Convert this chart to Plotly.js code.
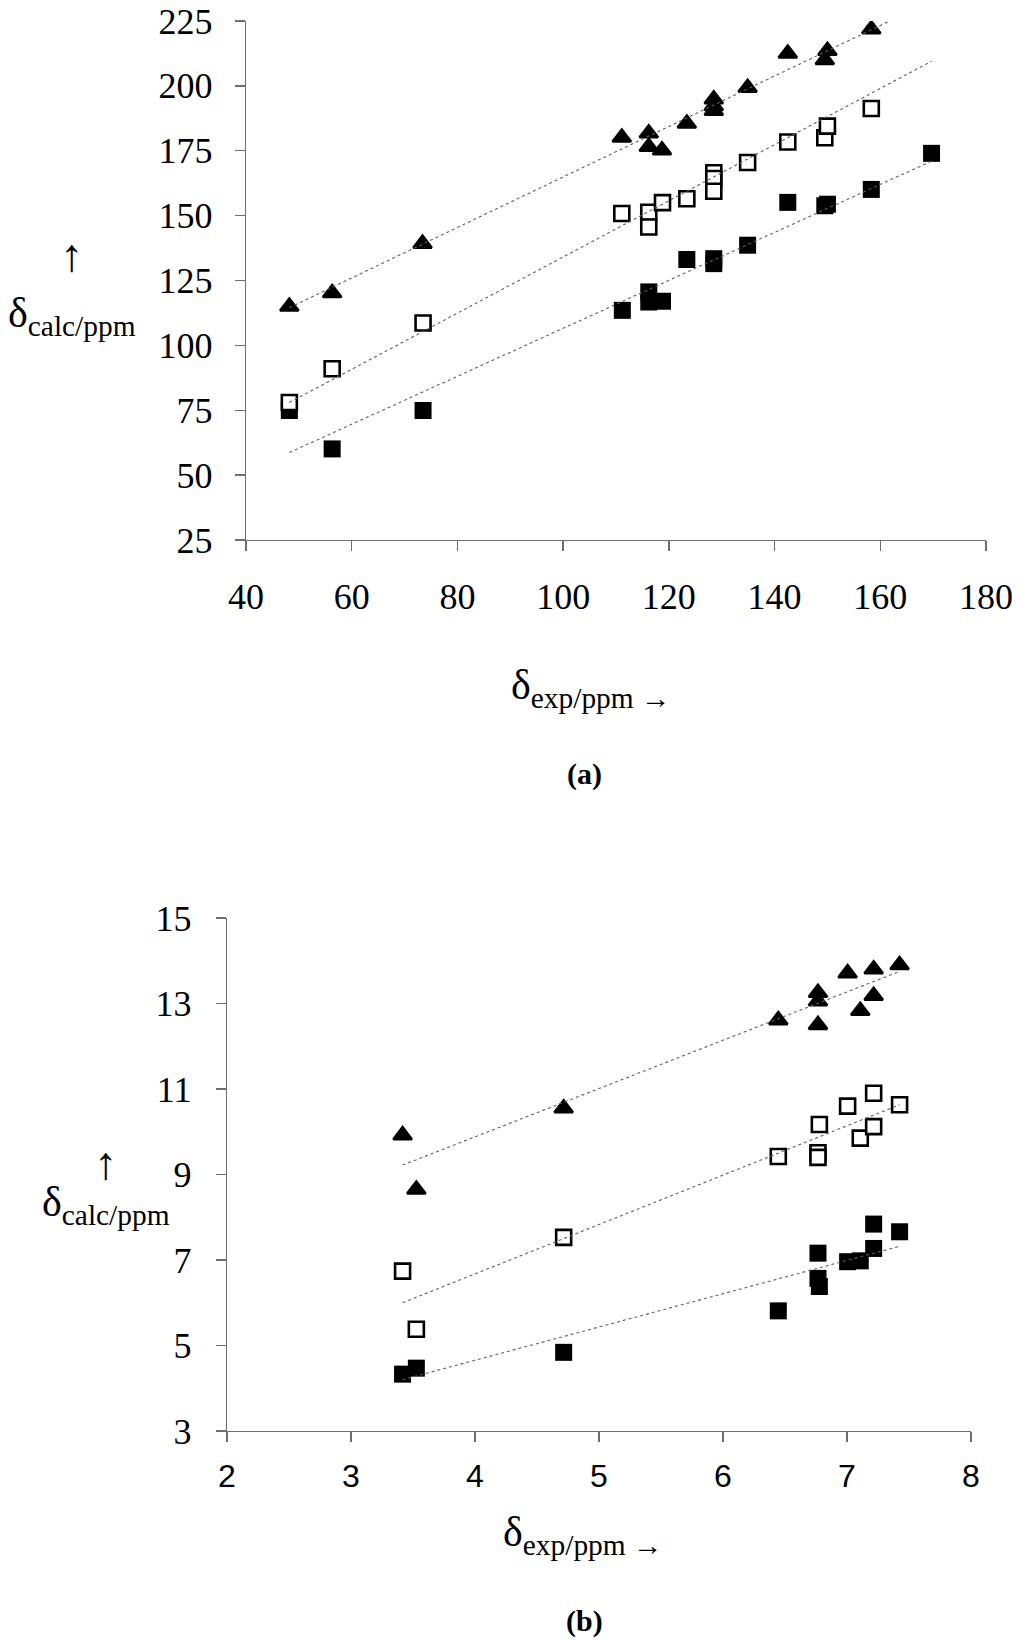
<!DOCTYPE html>
<html>
<head>
<meta charset="utf-8">
<script src="https://cdn.plot.ly/plotly-3.0.1.min.js"></script>
<style>
  body { margin: 0; background: #fff; }
  #gd { width: 1024px; height: 1646px; }
</style>
</head>
<body>
<div id="gd"></div>
<script>
// (a) 13C shifts: experimental vs calculated
var topExpFilled  = [48.2, 56.3, 73.5, 111.2, 116.2, 116.2, 118.8, 123.4, 128.5, 128.5, 134.9, 142.5, 149.5, 150.0, 158.3, 169.7];
var topCalcFilled = [74.9, 60.1, 74.9, 113.5, 120.6, 116.7, 117.0, 133.1, 133.4, 131.5, 138.6, 155.1, 153.8, 154.4, 160.1, 174.0];

var topExpOpen  = [48.2, 56.3, 73.5, 111.1, 116.2, 116.2, 118.8, 123.4, 128.5, 128.5, 128.5, 134.9, 142.5, 149.5, 150.0, 158.3];
var topCalcOpen = [78.0, 91.0, 108.6, 150.8, 151.3, 145.6, 155.0, 156.5, 166.5, 164.3, 159.4, 170.5, 178.4, 180.0, 184.5, 191.3];

var topExpTri  = [48.2, 56.3, 73.4, 111.1, 116.2, 116.2, 118.7, 123.4, 128.5, 128.5, 128.5, 134.9, 142.5, 149.5, 150.0, 158.3];
var topCalcTri = [115.0, 120.2, 139.2, 180.1, 181.7, 176.5, 175.2, 185.5, 194.8, 192.2, 190.4, 199.3, 212.5, 210.0, 213.5, 221.8];

// trend lines (end points)
var topFitExp    = [48.2, 169.7];
var topFitFilled = [58.7, 171.0];
var topFitOpen   = [78.0, 209.5];
var topFitTri    = [114.5, 232.7];

// (b) 1H shifts
var botExpTri  = [3.416, 3.527, 4.715, 6.446, 6.766, 6.766, 6.766, 7.005, 7.107, 7.215, 7.215, 7.424];
var botCalcTri = [9.92, 8.65, 10.55, 12.61, 13.25, 13.05, 12.50, 13.71, 12.83, 13.80, 13.18, 13.90];

var botExpOpen  = [3.416, 3.527, 4.715, 6.446, 6.777, 6.766, 6.766, 7.005, 7.107, 7.215, 7.215, 7.424];
var botCalcOpen = [6.74, 5.38, 7.53, 9.42, 10.17, 9.51, 9.40, 10.60, 9.85, 10.90, 10.12, 10.63];

var botExpFilled  = [3.416, 3.527, 4.715, 6.446, 6.766, 6.766, 6.777, 7.005, 7.107, 7.215, 7.215, 7.424];
var botCalcFilled = [4.33, 4.47, 4.84, 5.81, 7.16, 6.57, 6.38, 6.96, 6.98, 7.27, 7.84, 7.66];

var botFitExp    = [3.416, 7.424];
var botFitFilled = [4.20, 7.32];
var botFitOpen   = [6.00, 10.63];
var botFitTri    = [9.22, 13.75];

var W = 1024, H = 1646;
function px(x) { return x / W; }
function py(y) { return 1 - y / H; }

var filledSq = {symbol: 'square', size: 17, color: '#000', line: {width: 0}};
var openSq = {symbol: 'square', size: 15, color: '#fff', line: {color: '#000', width: 2.6}};
var tri = {symbol: 'triangle-up', size: 16, color: '#000', line: {color: '#000', width: 2.5}};
var fitLine = {color: '#606060', width: 1.1, dash: 'dot'};

function pts(x, y, marker, xa, ya) {
  return {x: x, y: y, type: 'scatter', mode: 'markers', marker: marker,
          xaxis: xa, yaxis: ya, hoverinfo: 'x+y', showlegend: false};
}
function fit(x, y, xa, ya) {
  return {x: x, y: y, type: 'scatter', mode: 'lines', line: fitLine,
          xaxis: xa, yaxis: ya, hoverinfo: 'skip', showlegend: false};
}

var data = [
  pts(topExpFilled, topCalcFilled, filledSq, 'x', 'y'),
  pts(topExpOpen, topCalcOpen, openSq, 'x', 'y'),
  pts(topExpTri, topCalcTri, tri, 'x', 'y'),
  fit(topFitExp, topFitFilled, 'x', 'y'),
  fit(topFitExp, topFitOpen, 'x', 'y'),
  fit(topFitExp, topFitTri, 'x', 'y'),

  pts(botExpFilled, botCalcFilled, filledSq, 'x2', 'y2'),
  pts(botExpOpen, botCalcOpen, openSq, 'x2', 'y2'),
  pts(botExpTri, botCalcTri, tri, 'x2', 'y2'),
  fit(botFitExp, botFitFilled, 'x2', 'y2'),
  fit(botFitExp, botFitOpen, 'x2', 'y2'),
  fit(botFitExp, botFitTri, 'x2', 'y2')
];

var serif = 'Liberation Serif, Times New Roman, serif';
var sans = 'Liberation Sans, Arial, sans-serif';
var axisBase = {
  showgrid: false, zeroline: false, showline: true,
  linecolor: '#6e6e6e', linewidth: 1.3,
  ticks: 'outside', ticklen: 10, tickwidth: 1.3, tickcolor: '#6e6e6e',
  fixedrange: true
};

function note(text, x, y, size, xanchor) {
  return {text: text, x: px(x), y: py(y), xref: 'paper', yref: 'paper',
          xanchor: xanchor || 'center', yanchor: 'middle',
          showarrow: false, font: {family: serif, size: size, color: '#000'}};
}

var layout = {
  width: W, height: H,
  margin: {l: 0, r: 0, t: 0, b: 0},
  paper_bgcolor: '#fff', plot_bgcolor: '#fff',
  font: {family: serif, color: '#000'},
  xaxis: Object.assign({}, axisBase, {
    domain: [px(246), px(986)], anchor: 'y',
    range: [40, 180], tick0: 40, dtick: 20,
    tickfont: {family: serif, size: 36}, ticklabelstandoff: 14
  }),
  yaxis: Object.assign({}, axisBase, {
    domain: [py(540), py(21)], anchor: 'x',
    range: [25, 225], tick0: 25, dtick: 25,
    tickfont: {family: serif, size: 36}, ticklabelstandoff: 15
  }),
  xaxis2: Object.assign({}, axisBase, {
    domain: [px(227), px(971)], anchor: 'y2',
    range: [2, 8], tick0: 2, dtick: 1,
    tickfont: {family: sans, size: 32}, ticklabelstandoff: 6
  }),
  yaxis2: Object.assign({}, axisBase, {
    domain: [py(1431), py(918)], anchor: 'x2',
    range: [3, 15], tick0: 3, dtick: 2,
    tickfont: {family: serif, size: 36}, ticklabelstandoff: 17
  }),
  annotations: [
    note('↑', 71, 256, 46),
    note('δ<sub>calc/ppm</sub>', 6, 316, 42, 'left'),
    note('δ<sub>exp/ppm →</sub>', 590, 688, 42),
    note('<b>(a)</b>', 584, 774, 30),

    note('↑', 105, 1163, 46),
    note('δ<sub>calc/ppm</sub>', 40, 1205, 42, 'left'),
    note('δ<sub>exp/ppm →</sub>', 582, 1535, 42),
    note('<b>(b)</b>', 584, 1621, 30)
  ]
};

Plotly.newPlot('gd', data, layout, {displayModeBar: false, staticPlot: true});
</script>
</body>
</html>
